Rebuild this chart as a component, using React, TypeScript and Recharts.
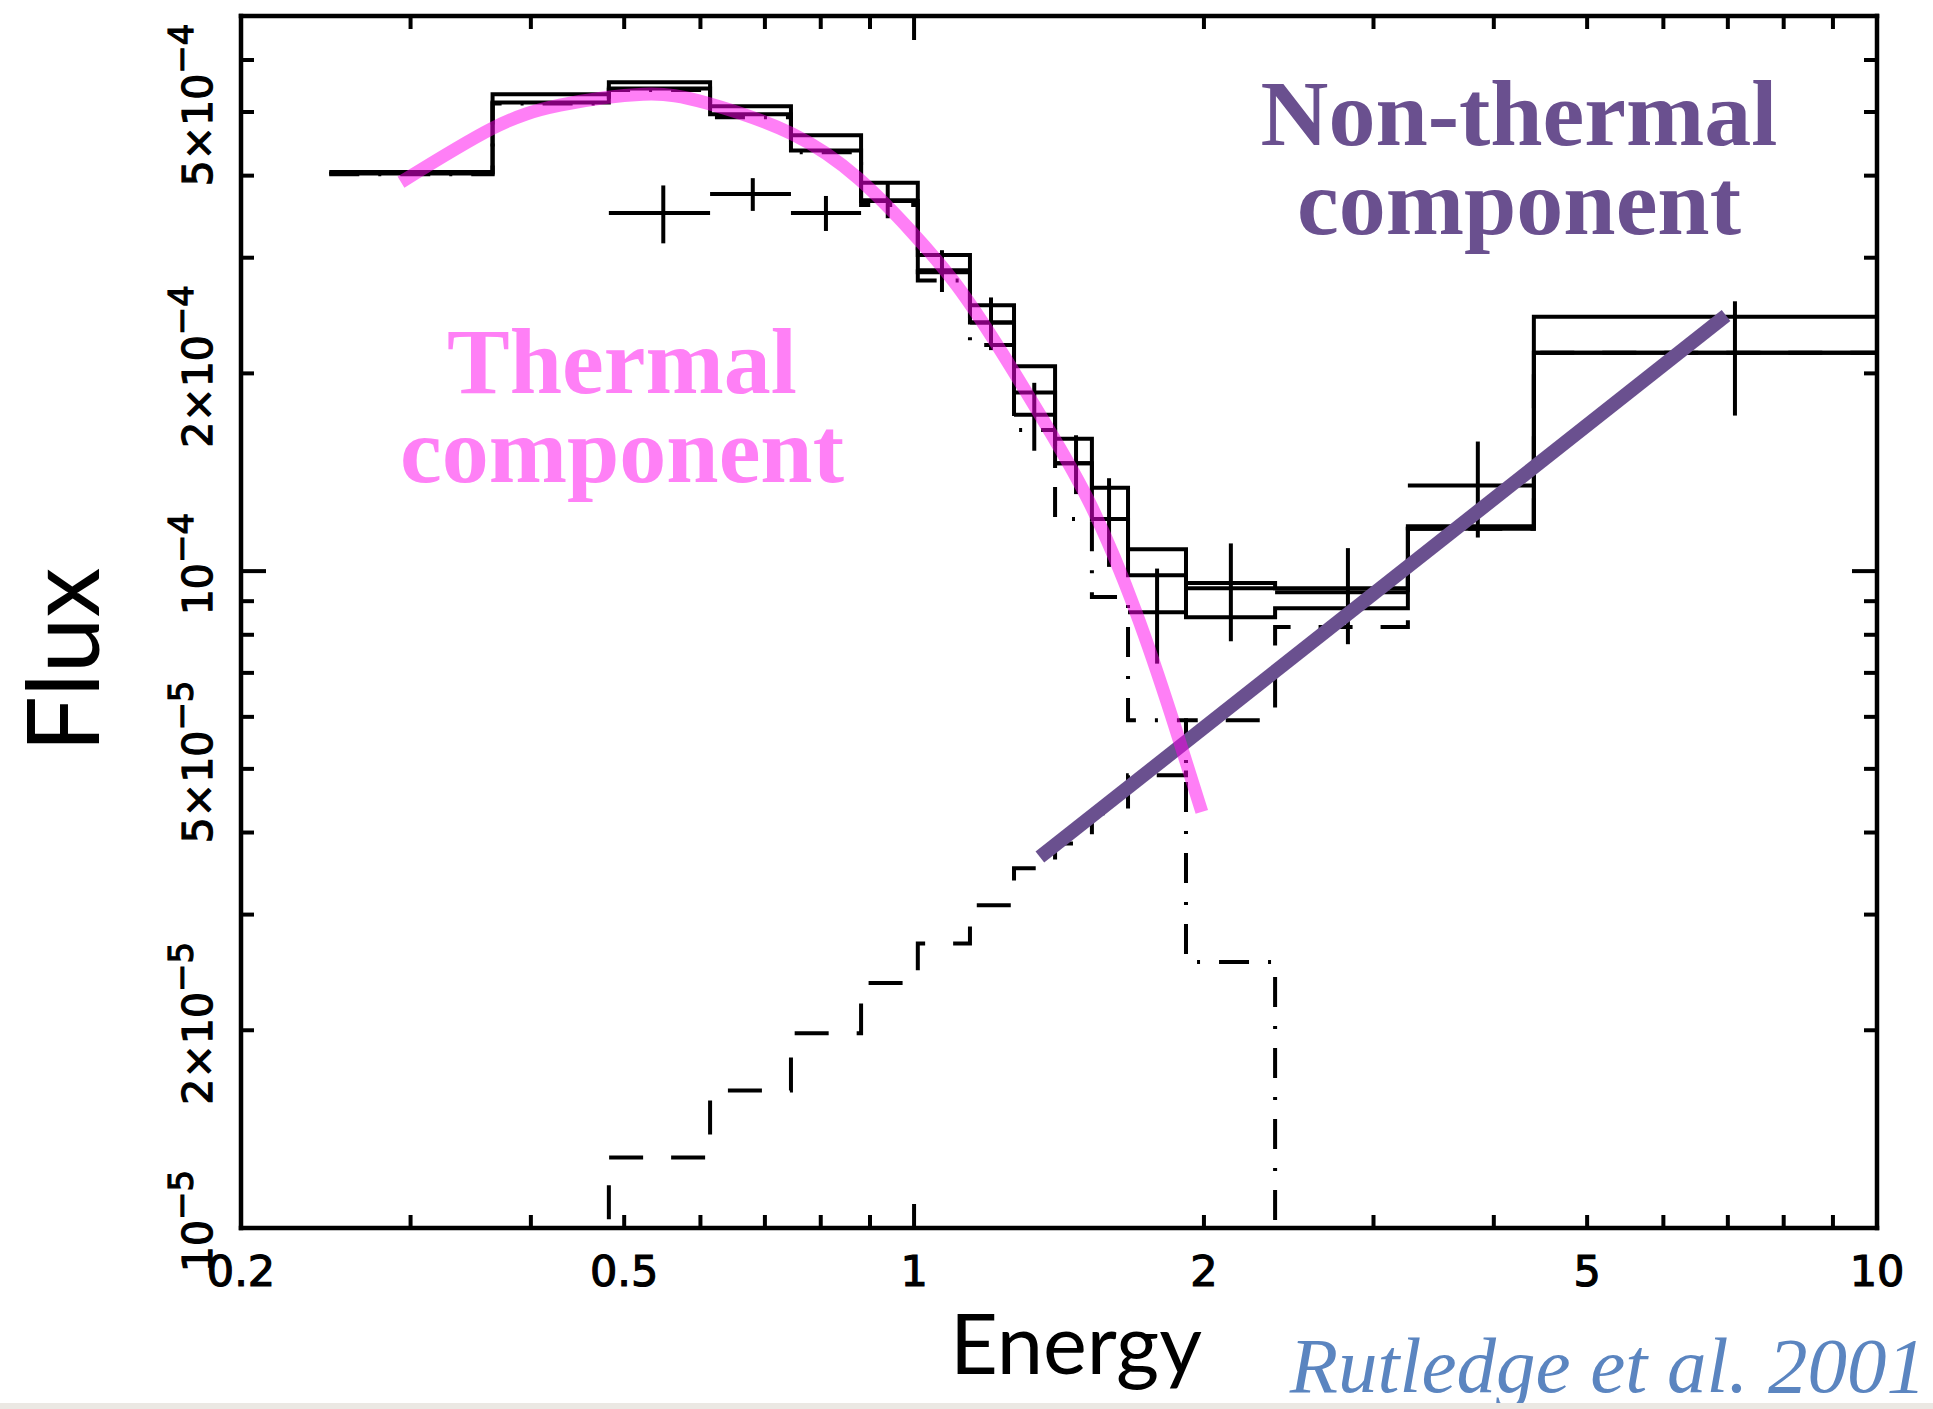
import { ComposedChart, ErrorBar, Line, Scatter, XAxis, YAxis } from 'recharts'

// channel edges of the binned spectrum, keV
const binEdges = [
  0.247, 0.365, 0.482, 0.614, 0.745, 0.881, 1.009, 1.143, 1.27, 1.401, 1.53,
  1.668, 1.916, 2.371, 3.257, 4.402, 10,
]

// folded models, one value per channel (photons cm^-2 s^-1 keV^-1)
const modelUpper = [
  4.05e-4, 5.32e-4, 5.55e-4, 5.1e-4, 4.61e-4, 3.9e-4, 3.03e-4, 2.54e-4, 2.05e-4,
  1.59e-4, 1.34e-4, 1.08e-4, 9.59e-5, 9.42e-5, 1.17e-4, 2.44e-4,
]
const modelLower = [
  4.03e-4, 5.17e-4, 5.43e-4, 4.96e-4, 4.37e-4, 3.66e-4, 2.85e-4, 2.39e-4, 1.87e-4,
  1.46e-4, 1.2e-4, 9.86e-5, 8.51e-5, 8.78e-5, 1.16e-4, 2.15e-4,
]
const thermalModel = [
  4.02e-4, 5.15e-4, 5.4e-4, 4.91e-4, 4.34e-4, 3.61e-4, 2.77e-4, 2.21e-4, 1.64e-4,
  1.2e-4, 9.13e-5, 5.93e-5, 2.54e-5, 6e-6,
]
const powerLawModel = [
  6e-6, 6e-6, 1.28e-5, 1.62e-5, 1.98e-5, 2.36e-5, 2.71e-5, 3.1e-5, 3.53e-5,
  3.85e-5, 4.28e-5, 4.89e-5, 5.93e-5, 8.22e-5, 1.16e-4, 2.15e-4,
]

// observed counts, channels 2..15
const dataEnergy = [
  0.549, 0.68, 0.81, 0.939, 1.069, 1.202, 1.333, 1.473, 1.594, 1.788, 2.133,
  2.822, 3.85, 7.12,
]
const dataFlux = [
  3.51e-4, 3.75e-4, 3.51e-4, 3.67e-4, 2.87e-4, 2.39e-4, 1.73e-4, 1.46e-4, 1.2e-4,
  8.66e-5, 9.42e-5, 9.29e-5, 1.35e-4, 2.15e-4,
]
const dataFluxErr = [
  3.55e-5, 2.15e-5, 2.15e-5, 2.25e-5, 2.1e-5, 2.2e-5, 2.05e-5, 1.5e-5, 1.85e-5,
  1.43e-5, 1.6e-5, 1.55e-5, 2.25e-5, 4.25e-5,
]

// hand-drawn guides over the spectrum
const thermalSketchEnergy = [
  0.2932, 0.3637, 0.4289, 0.523, 0.609, 0.747, 0.877, 0.995, 1.108, 1.234, 1.371,
  1.526, 1.7, 1.857, 1.99,
]
const thermalSketchFlux = [
  3.91e-4, 4.71e-4, 5.12e-4, 5.32e-4, 5.16e-4, 4.63e-4, 3.95e-4, 3.28e-4, 2.72e-4,
  2.15e-4, 1.67e-4, 1.26e-4, 8.66e-5, 5.93e-5, 4.3e-5,
]
const powerLawSketchEnergy = [1.351, 6.97]
const powerLawSketchFlux = [3.67e-5, 2.45e-4]

const energyTicks = [
  0.2, 0.3, 0.4, 0.5, 0.6, 0.7, 0.8, 0.9, 1, 2, 3, 4, 5, 6, 7, 8, 9, 10,
]
const energyTickLabels = new Map<number, string>([
  [0.2, '0.2'],
  [0.5, '0.5'],
  [1, '1'],
  [2, '2'],
  [5, '5'],
  [10, '10'],
])
const fluxTicks = [
  1e-5, 2e-5, 3e-5, 4e-5, 5e-5, 6e-5, 7e-5, 8e-5, 9e-5, 1e-4, 2e-4, 3e-4, 4e-4,
  5e-4, 6e-4,
]
const fluxTickLabels = new Map<number, [string, string]>([
  [1e-5, ['10', '\u22125']],
  [2e-5, ['2\u00d710', '\u22125']],
  [5e-5, ['5\u00d710', '\u22125']],
  [1e-4, ['10', '\u22124']],
  [2e-4, ['2\u00d710', '\u22124']],
  [5e-4, ['5\u00d710', '\u22124']],
])

const ENERGY_DOMAIN: [number, number] = [0.2, 10]
const FLUX_DOMAIN: [number, number] = [1e-5, 7e-4]
const INK = '#000'
const TICK_FONT = 'DejaVu Sans'

function steps(edges: number[], values: number[]) {
  const pts = values.map((v, i) => ({ e: edges[i], v }))
  pts.push({ e: edges[values.length], v: values[values.length - 1] })
  return pts
}

const upperSteps = steps(binEdges, modelUpper)
const lowerSteps = steps(binEdges, modelLower)
const thermalSteps = steps(binEdges, thermalModel)
const powerLawSteps = steps(binEdges, powerLawModel)

const crosses = dataEnergy.map((e, i) => ({
  e,
  f: dataFlux[i],
  eErr: [e - binEdges[i + 2], binEdges[i + 3] - e],
  fErr: dataFluxErr[i],
}))

const thermalSketch = thermalSketchEnergy.map((e, i) => ({ e, f: thermalSketchFlux[i] }))
const powerLawSketch = powerLawSketchEnergy.map((e, i) => ({ e, f: powerLawSketchFlux[i] }))

const isEnergyEdge = (v: number) => v <= ENERGY_DOMAIN[0] || v >= ENERGY_DOMAIN[1]
const isFluxEdge = (v: number) => v <= FLUX_DOMAIN[0] || v >= FLUX_DOMAIN[1]

function BottomTick(props: any) {
  const { x, y, payload } = props
  const v = payload.value
  const len = v === 1 ? 24 : 13
  const label = energyTickLabels.get(v)
  return (
    <g>
      {!isEnergyEdge(v) && (
        <line x1={x} x2={x} y1={y} y2={y - len} stroke={INK} strokeWidth={4} />
      )}
      {label && (
        <text
          x={x}
          y={y + 58}
          textAnchor="middle"
          fontFamily={TICK_FONT}
          fontSize={43}
          fill={INK}
          stroke={INK}
          strokeWidth={1.2}
        >
          {label}
        </text>
      )}
    </g>
  )
}

function TopTick(props: any) {
  const { x, y, payload } = props
  const v = payload.value
  if (isEnergyEdge(v)) return <g />
  const len = v === 1 ? 24 : 13
  return <line x1={x} x2={x} y1={y} y2={y + len} stroke={INK} strokeWidth={4} />
}

function LeftTick(props: any) {
  const { x, y, payload } = props
  const v = payload.value
  const len = v === 1e-4 ? 25 : 13
  const label = fluxTickLabels.get(v)
  const lx = x - 29
  const ly = y - 7
  return (
    <g>
      {!isFluxEdge(v) && (
        <line x1={x} x2={x + len} y1={y} y2={y} stroke={INK} strokeWidth={4} />
      )}
      {label && (
        <text
          x={lx}
          y={ly}
          transform={`rotate(-90 ${lx} ${ly})`}
          textAnchor="middle"
          fontFamily={TICK_FONT}
          fontSize={41}
          fill={INK}
          stroke={INK}
          strokeWidth={1.2}
        >
          <tspan>{label[0]}</tspan>
          <tspan dy={-19} fontSize={34}>
            {label[1]}
          </tspan>
        </text>
      )}
    </g>
  )
}

function RightTick(props: any) {
  const { x, y, payload } = props
  const v = payload.value
  if (isFluxEdge(v)) return <g />
  const len = v === 1e-4 ? 25 : 13
  return <line x1={x} x2={x - len} y1={y} y2={y} stroke={INK} strokeWidth={4} />
}

const frame = { stroke: INK, strokeWidth: 4.5, strokeLinecap: 'square' as const }

export default function App() {
  return (
    <div style={{ position: 'absolute', left: 0, top: 0, width: 1933, height: 1409, background: '#fff' }}>
      <ComposedChart
        width={1933}
        height={1409}
        margin={{ top: 15, right: 55, bottom: 180, left: 240 }}
      >
        <XAxis
          xAxisId="bottom"
          dataKey="e"
          type="number"
          scale="log"
          domain={ENERGY_DOMAIN}
          allowDataOverflow
          ticks={energyTicks}
          interval={0}
          tick={<BottomTick />}
          tickLine={false}
          tickSize={0}
          tickMargin={0}
          height={1}
          axisLine={frame}
        />
        <XAxis
          xAxisId="top"
          orientation="top"
          dataKey="e"
          type="number"
          scale="log"
          domain={ENERGY_DOMAIN}
          allowDataOverflow
          ticks={energyTicks}
          interval={0}
          tick={<TopTick />}
          tickLine={false}
          tickSize={0}
          tickMargin={0}
          height={1}
          axisLine={frame}
        />
        <YAxis
          yAxisId="left"
          type="number"
          scale="log"
          domain={FLUX_DOMAIN}
          allowDataOverflow
          ticks={fluxTicks}
          interval={0}
          tick={<LeftTick />}
          tickLine={false}
          tickSize={0}
          tickMargin={0}
          width={1}
          axisLine={frame}
        />
        <YAxis
          yAxisId="right"
          orientation="right"
          type="number"
          scale="log"
          domain={FLUX_DOMAIN}
          allowDataOverflow
          ticks={fluxTicks}
          interval={0}
          tick={<RightTick />}
          tickLine={false}
          tickSize={0}
          tickMargin={0}
          width={1}
          axisLine={frame}
        />

        <Line
          xAxisId="bottom"
          yAxisId="left"
          data={powerLawSteps}
          dataKey="v"
          type="stepAfter"
          stroke={INK}
          strokeWidth={4}
          strokeDasharray="34 28"
          dot={false}
          activeDot={false}
          isAnimationActive={false}
        />
        <Line
          xAxisId="bottom"
          yAxisId="left"
          data={thermalSteps}
          dataKey="v"
          type="stepAfter"
          stroke={INK}
          strokeWidth={4}
          strokeDasharray="30 19 3 19"
          dot={false}
          activeDot={false}
          isAnimationActive={false}
        />
        <Line
          xAxisId="bottom"
          yAxisId="left"
          data={lowerSteps}
          dataKey="v"
          type="stepAfter"
          stroke={INK}
          strokeWidth={4}
          dot={false}
          activeDot={false}
          isAnimationActive={false}
        />
        <Line
          xAxisId="bottom"
          yAxisId="left"
          data={upperSteps}
          dataKey="v"
          type="stepAfter"
          stroke={INK}
          strokeWidth={4}
          dot={false}
          activeDot={false}
          isAnimationActive={false}
        />
        <Scatter
          xAxisId="bottom"
          yAxisId="left"
          data={crosses}
          dataKey="f"
          shape={() => <g />}
          isAnimationActive={false}
        >
          <ErrorBar dataKey="fErr" direction="y" width={0} stroke={INK} strokeWidth={4} isAnimationActive={false} />
          <ErrorBar dataKey="eErr" direction="x" width={0} stroke={INK} strokeWidth={4} isAnimationActive={false} />
        </Scatter>

        <Line
          xAxisId="bottom"
          yAxisId="left"
          data={powerLawSketch}
          dataKey="f"
          type="linear"
          stroke="#6a508f"
          strokeWidth={14}
          strokeLinecap="butt"
          dot={false}
          activeDot={false}
          isAnimationActive={false}
        />
        <Line
          xAxisId="bottom"
          yAxisId="left"
          data={thermalSketch}
          dataKey="f"
          type="natural"
          stroke="#ff00ee"
          strokeOpacity={0.5}
          strokeWidth={13}
          strokeLinecap="butt"
          dot={false}
          activeDot={false}
          isAnimationActive={false}
        />
      </ComposedChart>

      <svg
        width={1933}
        height={1409}
        style={{ position: 'absolute', left: 0, top: 0, pointerEvents: 'none' }}
      >
        <g fontFamily="Liberation Serif" fontWeight="bold" fontSize={94} textAnchor="middle">
          <text x={622} y={393} fill="#ff80f6">Thermal</text>
          <text x={622} y={482} fill="#ff80f6">component</text>
          <text x={1519} y={145} fill="#6a508f">Non-thermal</text>
          <text x={1519} y={234} fill="#6a508f">component</text>
        </g>
        <text
          x={99}
          y={660}
          transform="rotate(-90 99 660)"
          textAnchor="middle"
          fontFamily="Lato"
          fontSize={100}
          fill={INK}
        >
          Flux
        </text>
        <text x={1076} y={1374} textAnchor="middle" fontFamily="Lato" fontSize={83} fill={INK}>
          Energy
        </text>
        <text
          x={1926}
          y={1392}
          textAnchor="end"
          fontFamily="Liberation Serif"
          fontStyle="italic"
          fontSize={79}
          fill="#5b85c0"
        >
          Rutledge et al. 2001
        </text>
      </svg>
      <div
        style={{ position: 'absolute', left: 0, top: 1403, width: 1933, height: 6, background: '#ebe8e3' }}
      />
    </div>
  )
}
